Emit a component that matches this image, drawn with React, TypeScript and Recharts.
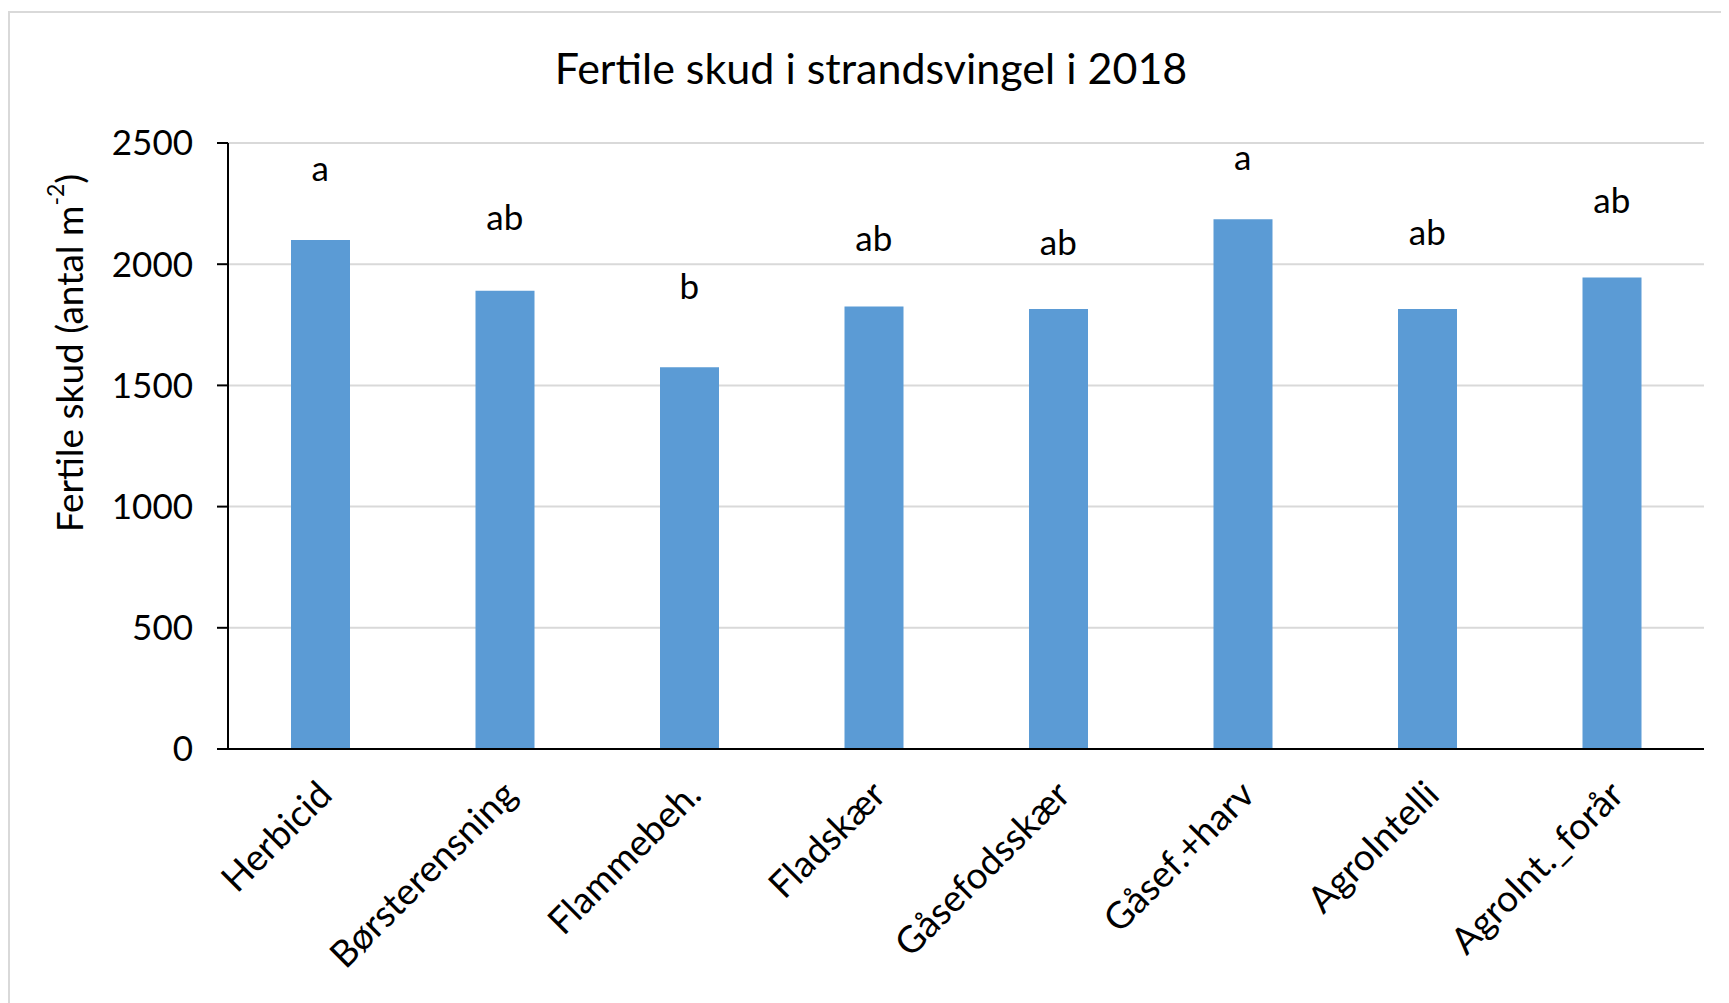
import {
  Bar,
  CartesianGrid,
  ComposedChart,
  LabelList,
  Line,
  XAxis,
  YAxis,
} from "recharts";

const treatments = [
  "Herbicid",
  "Børsterensning",
  "Flammebeh.",
  "Fladskær",
  "Gåsefodsskær",
  "Gåsef.+harv",
  "AgroIntelli",
  "AgroInt._forår",
];
const fertileShoots = [2100, 1890, 1575, 1825, 1815, 2185, 1815, 1945];
const letters = ["a", "ab", "b", "ab", "ab", "a", "ab", "ab"];
// height (in shoots per m2) where the significance letter sits
const letterHeights = [2395, 2190, 1908, 2104, 2090, 2441, 2131, 2263];
const yTicks = [0, 500, 1000, 1500, 2000, 2500];

const FONT = "Lato, 'Open Sans', sans-serif";

const data = treatments.map((name, i) => ({
  name,
  value: fertileShoots[i],
  letter: letters[i],
  letterPos: letterHeights[i],
}));

function CategoryTick(props: any) {
  const { x, y, payload } = props;
  const ax = x + 14;
  const ay = y + 40;
  return (
    <text
      x={ax}
      y={ay}
      transform={`rotate(-45, ${ax}, ${ay})`}
      textAnchor="end"
      fontFamily={FONT}
      fontSize={37}
      fill="#000"
    >
      {payload.value}
    </text>
  );
}

function YLabel() {
  const cx = 58;
  const cy = 340;
  return (
    <text
      x={cx}
      y={cy}
      transform={`rotate(-90, ${cx}, ${cy})`}
      textAnchor="middle"
      dominantBaseline="central"
      fontFamily={FONT}
      fontSize={37}
      fill="#000"
    >
      Fertile skud (antal m
      <tspan dy={-13} fontSize={23}>
        -2
      </tspan>
      <tspan dy={13}>)</tspan>
    </text>
  );
}

function LetterLabel(props: any) {
  const { x, y, value } = props;
  return (
    <text
      x={x}
      y={y}
      dy="0.35em"
      textAnchor="middle"
      fontFamily={FONT}
      fontSize={35}
      fill="#000"
    >
      {value}
    </text>
  );
}

export default function App() {
  return (
    <div style={{ paddingTop: 3 }}>
      <div
        style={{
          position: "relative",
          width: 1719,
          height: 990,
          border: "2px solid #d9d9d9",
          background: "#fff",
        }}
      >
        <div
          style={{
            position: "absolute",
            left: 0,
            width: 1722,
            top: 29,
            lineHeight: "52px",
            textAlign: "center",
            fontFamily: FONT,
            fontSize: 43,
            color: "#000",
          }}
        >
          Fertile skud i strandsvingel i 2018
        </div>
        <ComposedChart
          width={1719}
          height={990}
          data={data}
          margin={{ top: 130, right: 25, bottom: 14, left: 118 }}
        >
          <CartesianGrid vertical={false} stroke="#d9d9d9" strokeWidth={2} />
          <XAxis
            dataKey="name"
            interval={0}
            tickLine={false}
            axisLine={{ stroke: "#000", strokeWidth: 2 }}
            tick={<CategoryTick />}
            height={240}
          />
          <YAxis
            domain={[0, 2500]}
            ticks={yTicks}
            width={100}
            tickSize={11}
            tickMargin={24}
            axisLine={{ stroke: "#000", strokeWidth: 2 }}
            tickLine={{ stroke: "#000", strokeWidth: 2 }}
            tick={{ fontFamily: FONT, fontSize: 35, fill: "#000" }}
            label={<YLabel />}
          />
          <Bar
            dataKey="value"
            fill="#5b9bd5"
            barSize={59}
            isAnimationActive={false}
          />
          <Line
            dataKey="letterPos"
            stroke="none"
            dot={false}
            activeDot={false}
            legendType="none"
            isAnimationActive={false}
          >
            <LabelList dataKey="letter" content={<LetterLabel />} />
          </Line>
        </ComposedChart>
      </div>
    </div>
  );
}
